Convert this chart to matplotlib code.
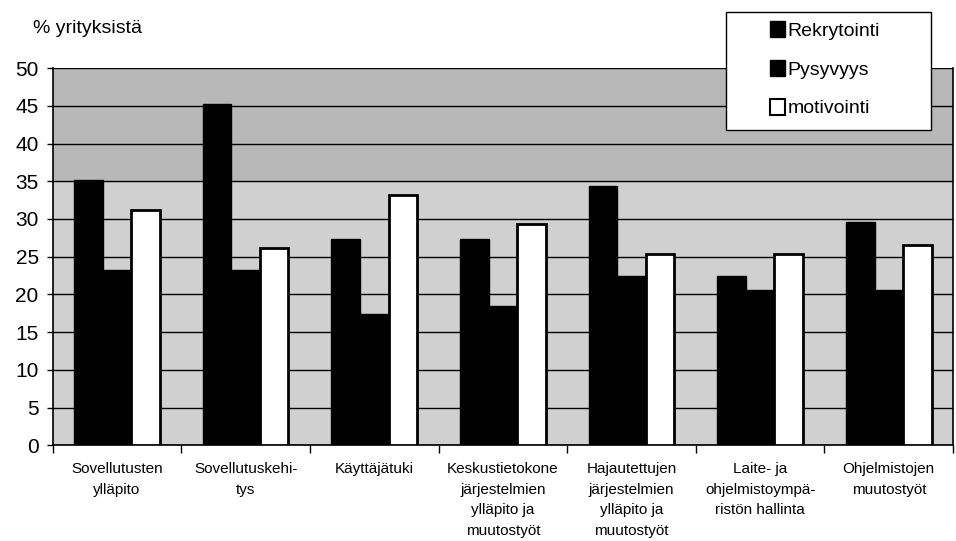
import numpy as np
import matplotlib
matplotlib.use("Agg")
import matplotlib.pyplot as plt
from matplotlib.patches import Patch, Rectangle

plt.rcParams['font.family'] = ['Liberation Sans', 'DejaVu Sans']

categories = [
    "Sovellutusten\nylläpito",
    "Sovellutuskehi-\ntys",
    "Käyttäjätuki",
    "Keskustietokone\njärjestelmien\nylläpito ja\nmuutostyöt",
    "Hajautettujen\njärjestelmien\nylläpito ja\nmuutostyöt",
    "Laite- ja\nohjelmistoympä-\nristön hallinta",
    "Ohjelmistojen\nmuutostyöt",
]
rekrytointi = [35.2, 45.2, 27.4, 27.4, 34.4, 22.5, 29.6]
pysyvyys = [23.3, 23.3, 17.4, 18.4, 22.5, 20.6, 20.6]
motivointi = [31.2, 26.2, 33.2, 29.3, 25.3, 25.3, 26.5]
series_names = ["Rekrytointi", "Pysyvyys", "motivointi"]

fig = plt.figure(figsize=(9.56, 5.41), dpi=100)
ax = fig.add_axes([0.055, 0.177, 0.942, 0.697])

x = np.arange(len(categories))
w = 1 / 4.5

ax.set_facecolor('#d0d0d0')
ax.axhspan(35, 50, color='#b8b8b8', zorder=0)

ax.bar(x - w, rekrytointi, w, color='black', edgecolor='black', zorder=3)
ax.bar(x, pysyvyys, w, color='black', edgecolor='black', zorder=3)
ax.bar(x + w, motivointi, w, color='white', edgecolor='black', linewidth=2, zorder=3)

ax.set_ylim(0, 50)
ax.set_xlim(-0.5, len(categories) - 0.5)
ax.set_yticks(range(0, 51, 5))
ax.yaxis.grid(True, color='black', linewidth=1)
ax.set_axisbelow(True)
ax.tick_params(axis='y', labelsize=15, length=4, width=1, direction='out', pad=6)

ax.set_xticks(x)
ax.set_xticklabels(categories, fontsize=11, linespacing=1.6)
ax.tick_params(axis='x', length=0, pad=12)
ax.set_xticks(np.arange(-0.5, len(categories)), minor=True)
ax.tick_params(axis='x', which='minor', length=6, width=1, direction='out')

for side in ['left', 'bottom', 'right']:
    ax.spines[side].set_color('black')
    ax.spines[side].set_linewidth(1.2)
ax.spines['top'].set_visible(False)

fig.text(0.035, 0.948, "% yrityksistä", fontsize=14, va='center', ha='left')

# legend box: white panel with border, entries placed inside
W, H = 956, 541
fig.patches.append(Rectangle((726 / W, 1 - 130 / H), 205 / W, 118 / H,
                             transform=fig.transFigure, facecolor='white',
                             edgecolor='black', linewidth=1, zorder=5))
handles = [
    Patch(facecolor='black', edgecolor='black'),
    Patch(facecolor='black', edgecolor='black'),
    Patch(facecolor='white', edgecolor='black', linewidth=1.5),
]
leg = fig.legend(handles, series_names, loc='upper left',
                 bbox_to_anchor=(770 / W, 1 - 21 / H), fontsize=14,
                 frameon=False, handlelength=0.75, handleheight=0.9,
                 handletextpad=0.15, labelspacing=1.03, borderpad=0,
                 borderaxespad=0)
leg.set_zorder(6)

fig.savefig('out.png', dpi=100)
